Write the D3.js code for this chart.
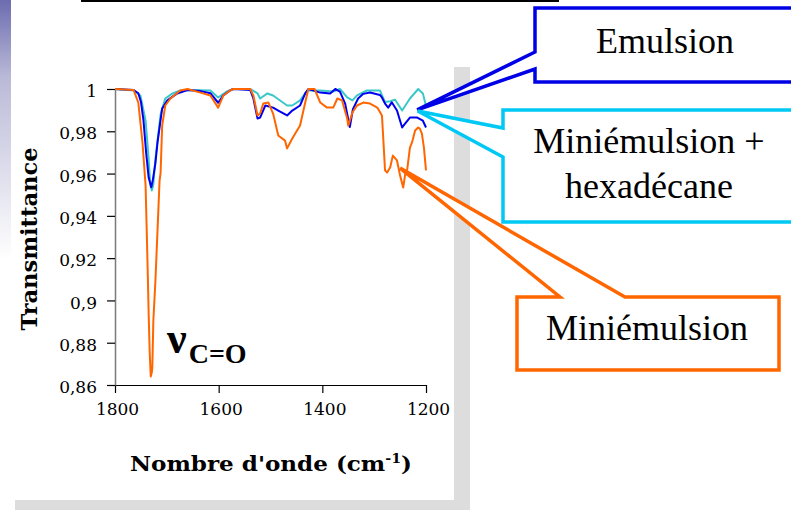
<!DOCTYPE html>
<html><head><meta charset="utf-8">
<script src="https://cdn.jsdelivr.net/npm/d3@7"></script>
<style>body{margin:0;background:#fff;overflow:hidden} svg{display:block}</style>
</head><body><svg id="c" width="791" height="510"></svg>
<script>
// ---------- data ----------
const xTicks = [1800, 1600, 1400, 1200];
const xTickLabels = ["1800", "1600", "1400", "1200"];
const yTicks = [0.86, 0.88, 0.9, 0.92, 0.94, 0.96, 0.98, 1];
const yTickLabels = ["0,86", "0,88", "0,9", "0,92", "0,94", "0,96", "0,98", "1"];
const seriesNames = ["Emulsion", "Miniémulsion + hexadécane", "Miniémulsion"];

// [wavenumber (cm-1), transmittance]
const emulsion = [[1800,1.0],[1764,0.9995],[1755,0.998],[1750,0.994],[1745,0.985],[1740,0.97],[1735,0.958],[1730,0.9535],[1727,0.957],[1722,0.965],[1718,0.9747],[1709,0.9908],[1699,0.9946],[1680,0.9979],[1660,0.9995],[1635,0.999],[1616,0.998],[1601,0.9935],[1591,0.997],[1578,0.9993],[1572,1.0],[1539,0.9995],[1533,0.9955],[1525,0.986],[1520,0.9865],[1510,0.9922],[1495,0.9912],[1485,0.9898],[1468,0.9875],[1458,0.9898],[1443,0.9922],[1433,0.9979],[1427,1.0],[1404,0.9983],[1385,0.9979],[1375,1.0],[1366,0.9988],[1356,0.9931],[1347,0.982],[1341,0.9905],[1331,0.9955],[1321,0.9977],[1308,0.9983],[1289,0.9972],[1285,0.996],[1279,0.9931],[1273,0.9912],[1266,0.9937],[1256,0.9898],[1246,0.9818],[1240,0.9837],[1231,0.9865],[1217,0.9865],[1206,0.985],[1200,0.9818]];
const hexadecane = [[1800,1.0],[1764,0.9993],[1751,0.9969],[1741,0.985],[1736,0.97],[1732,0.955],[1729,0.952],[1726,0.955],[1722,0.9671],[1712,0.988],[1703,0.9955],[1689,0.9979],[1674,0.9993],[1660,0.9995],[1616,0.9993],[1601,0.996],[1583,0.999],[1572,1.0],[1539,1.0],[1525,0.9979],[1520,0.9955],[1506,0.9979],[1495,0.9969],[1468,0.9922],[1458,0.9922],[1443,0.9946],[1429,0.9993],[1404,0.9993],[1379,0.9988],[1366,1.0],[1352,0.996],[1342,0.9946],[1333,0.997],[1314,0.9993],[1289,0.9993],[1279,0.9938],[1269,0.9942],[1260,0.995],[1246,0.9898],[1231,0.9955],[1215,1.0],[1206,0.9979],[1200,0.992]];
const miniemulsion = [[1800,1.0],[1764,0.9995],[1755,0.9936],[1747,0.9747],[1741,0.9544],[1739,0.935],[1737,0.915],[1735,0.893],[1733,0.875],[1731,0.864],[1729,0.866],[1728,0.8683],[1726,0.8905],[1722,0.9094],[1718,0.933],[1714,0.9567],[1712,0.9605],[1709,0.9827],[1703,0.9922],[1693,0.9955],[1674,0.9993],[1660,1.0],[1635,0.9983],[1616,0.9969],[1601,0.9912],[1591,0.9969],[1578,0.9993],[1572,1.0],[1539,1.0],[1533,0.9969],[1525,0.9875],[1520,0.9884],[1514,0.9931],[1504,0.9936],[1495,0.9884],[1485,0.978],[1472,0.9756],[1468,0.9719],[1458,0.9766],[1443,0.9827],[1433,0.9936],[1427,1.0],[1415,1.0],[1404,0.9936],[1391,0.9912],[1379,0.9912],[1371,0.9955],[1362,0.9946],[1352,0.986],[1350,0.9827],[1342,0.9889],[1333,0.9922],[1321,0.9936],[1308,0.9931],[1294,0.9912],[1285,0.9875],[1283,0.979],[1279,0.9615],[1275,0.9605],[1269,0.963],[1264,0.9685],[1256,0.9662],[1250,0.9591],[1244,0.9534],[1240,0.96],[1237,0.9605],[1231,0.9723],[1227,0.9747],[1221,0.9804],[1215,0.9818],[1212,0.9813],[1208,0.979],[1204,0.9723],[1200,0.9615]];

// ---------- drawing ----------
const svg = d3.select("#c");
const defs = svg.append("defs");
const grad = defs.append("linearGradient").attr("id","strip").attr("x1",0).attr("y1",0).attr("x2",0).attr("y2",1);
grad.append("stop").attr("offset","0").attr("stop-color","rgb(108,108,176)");
grad.append("stop").attr("offset","0.3").attr("stop-color","rgb(186,186,216)");
grad.append("stop").attr("offset","1").attr("stop-color","#ffffff");

// slide decorations
svg.append("rect").attr("x",15).attr("y",67).attr("width",455).attr("height",443).attr("fill","#dddddd");
svg.append("rect").attr("x",0).attr("y",0).attr("width",454).attr("height",500).attr("fill","#ffffff");
svg.append("rect").attr("x",0).attr("y",0).attr("width",11).attr("height",260).attr("fill","url(#strip)");
svg.append("rect").attr("x",81).attr("y",0).attr("width",478).attr("height",2).attr("fill","#000");

const x = d3.scaleLinear().domain([1800, 1200]).range([115, 426]);
const y = d3.scaleLinear().domain([0.86, 1]).range([385, 89]);

// axes
const gx = svg.append("g").attr("transform","translate(0,385)")
  .call(d3.axisBottom(x).tickValues(xTicks).tickSize(8).tickSizeOuter(0).tickPadding(10)
        .tickFormat((d,i)=>xTickLabels[i]));
gx.select(".domain").attr("stroke","#000").attr("stroke-width",1.2);
gx.selectAll(".tick line").attr("stroke","#000").attr("stroke-width",1.2);
gx.selectAll(".tick text").attr("font-family","DejaVu Serif").attr("font-size",17).attr("fill","#000")
  .attr("dx",2);

const gy = svg.append("g").attr("transform","translate(115,0)")
  .call(d3.axisLeft(y).tickValues(yTicks).tickSize(8).tickSizeOuter(0).tickPadding(10)
        .tickFormat((d,i)=>yTickLabels[i]));
gy.select(".domain").attr("stroke","#7a7a7a").attr("stroke-width",1.5);
gy.selectAll(".tick line").attr("stroke","#000").attr("stroke-width",1.2);
gy.selectAll(".tick text").attr("font-family","DejaVu Serif").attr("font-size",17).attr("fill","#000")
  .attr("dy","0.45em");

// axis titles
svg.append("text").attr("transform","translate(37,239) rotate(-90)").attr("text-anchor","middle")
  .attr("font-family","DejaVu Serif").attr("font-weight","bold").attr("font-size",22)
  .attr("textLength",183).attr("lengthAdjust","spacingAndGlyphs").text("Transmittance");
const xt = svg.append("text").attr("x",130).attr("y",471)
  .attr("font-family","DejaVu Serif").attr("font-weight","bold").attr("font-size",21)
  .attr("textLength",282).attr("lengthAdjust","spacingAndGlyphs");
xt.append("tspan").text("Nombre d'onde (cm");
xt.append("tspan").attr("dy",-8).attr("font-size",13).text("-1");
xt.append("tspan").attr("dy",8).text(")");

// lines
const line = d3.line().x(d=>x(d[0])).y(d=>y(d[1]));
const series = [
  {name: seriesNames[1], data: hexadecane, color: "#3cc8c8"},
  {name: seriesNames[0], data: emulsion, color: "#0000ee"},
  {name: seriesNames[2], data: miniemulsion, color: "#ff6600"}
];
svg.append("g").selectAll("path").data(series).join("path")
  .attr("d", d=>line(d.data)).attr("fill","none").attr("stroke", d=>d.color)
  .attr("stroke-width",2).attr("stroke-linejoin","round");

// nu C=O label
const nu = svg.append("text").attr("x",167).attr("y",353)
  .attr("font-family","Liberation Serif").attr("font-weight","bold").attr("fill","#000");
nu.append("tspan").attr("font-size",44).text("ν");
nu.append("tspan").attr("font-size",28).attr("dy",10).attr("dx",2).text("C=O");

// callouts
function callout(pts, color, lines, cx, baselines){
  svg.append("path").attr("d", "M" + pts.map(p=>p.join(",")).join("L") + "Z")
    .attr("fill","#fff").attr("stroke",color).attr("stroke-width",3.5).attr("stroke-linejoin","miter");
  lines.forEach((t,i)=>{
    svg.append("text").attr("x",cx).attr("y",baselines[i]).attr("text-anchor","middle")
      .attr("font-family","Liberation Serif").attr("font-size",36).attr("fill","#000").text(t);
  });
}
const tipE = [x(1217), y(0.9901)];
const tipH = [x(1216), y(0.9896)];
const tipM = [x(1250), y(0.9626)];
callout([[535,8],[800,8],[800,82],[535,82],[535,69],tipE,[535,52]], "#0000e6", [seriesNames[0]], 665, [53]);
callout([[503,110],[800,110],[800,222],[503,222],[503,157],tipH,[503,128]], "#00c8f5", ["Miniémulsion +","hexadécane"], 649, [153,198]);
callout([[517,297],[560,297],tipM,[625,297],[779,297],[779,370],[517,370]], "#ff6600", [seriesNames[2]], 647, [340]);
</script></body></html>
